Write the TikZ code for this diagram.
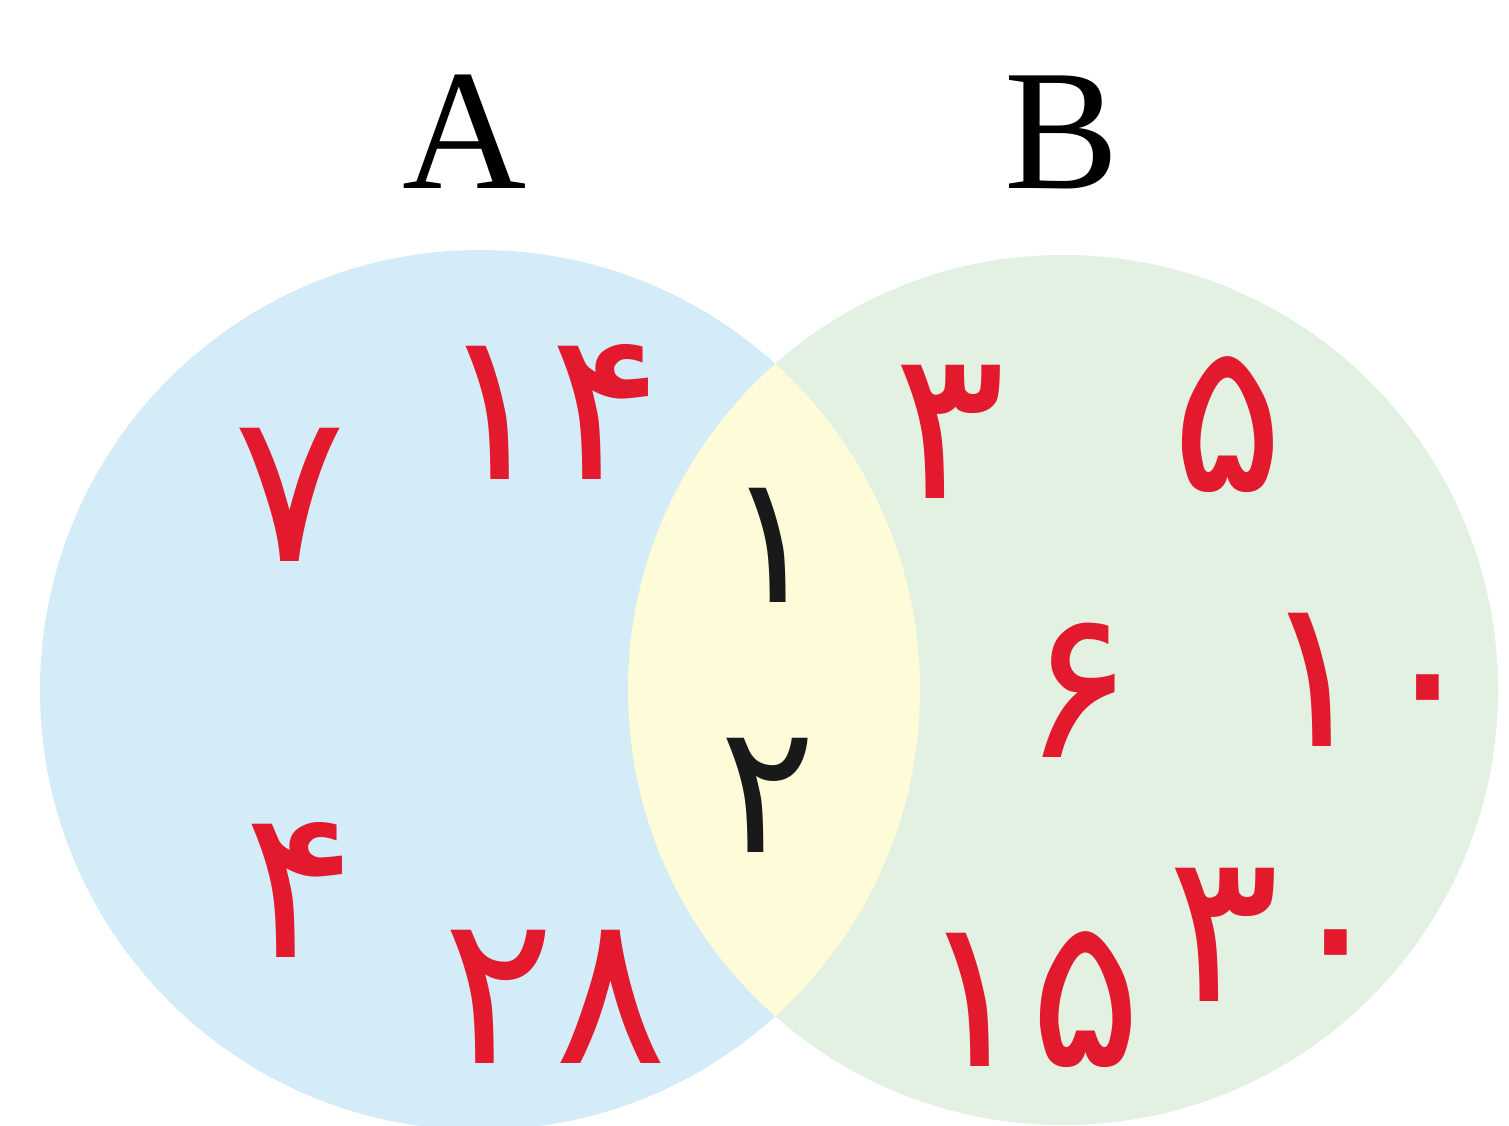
\documentclass[tikz,border=0pt]{standalone}
\usepackage{fontspec}
\setmainfont{Liberation Serif}
\newfontfamily\arabicfont[Script=Arabic]{DejaVu Sans}
\definecolor{setA}{HTML}{D4ECF8}
\definecolor{setB}{HTML}{E2F1E1}
\definecolor{setAB}{HTML}{FEFBD9}
\definecolor{numred}{HTML}{E3192D}
\tikzset{
  num/.style={text=numred, font=\arabicfont\fontsize{210}{210}\selectfont, inner sep=0pt, anchor=center},
  numk/.style={num, text=black!90, font=\arabicfont\fontsize{180}{180}\selectfont},
  setlabel/.style={font=\fontsize{172}{172}\selectfont, inner sep=0pt, anchor=center}
}
\begin{document}
\begin{tikzpicture}[x=1pt,y=-1pt]
\useasboundingbox (0,0) rectangle (1509,1125);
\fill[white] (0,0) rectangle (1509,1125);
\begin{scope}
\clip (0,0) rectangle (1509,1125);
\fill[setA] (480,690) circle[radius=440];
\fill[setB] (1063,690) circle[radius=435];
\begin{scope}
\clip (480,690) circle[radius=440];
\fill[setAB] (1063,690) circle[radius=435];
\end{scope}
\end{scope}
\node[setlabel] (lA) at (465,132) {A};
\node[setlabel] (lB) at (1062,132) {B};
\node[num] (n7) at (290,495) {۷};
\node[num] (n14) at (550,412) {۱۴};
\node[num] (n3) at (950,432) {۳};
\node[num] (n5) at (1228,425) {۵};
\node[numk] (n1) at (773,545) {۱};
\node[num] (n6) at (1078,690) {۶};
\node[num] (n10) at (1372,680) {۱۰};
\node[numk] (n2) at (768,795) {۲};
\node[num] (n4) at (300,890) {۴};
\node[num] (n28) at (555,997) {۲۸};
\node[num] (n30) at (1280,935) {۳۰};
\node[num] (n15) at (1030,1000) {۱۵};
\end{tikzpicture}
\end{document}
